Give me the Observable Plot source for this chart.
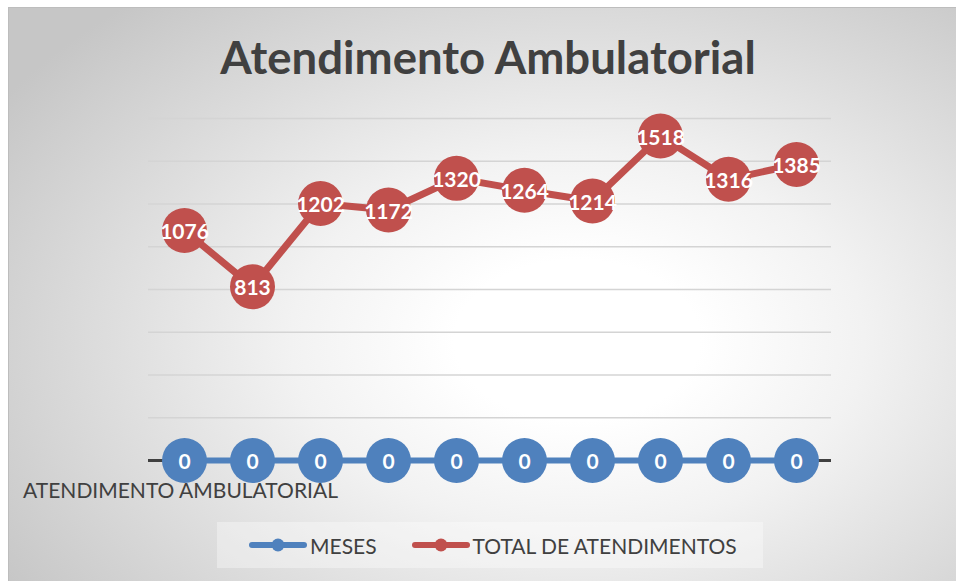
<!DOCTYPE html>
<html>
<head>
<meta charset="utf-8">
<script src="https://cdn.jsdelivr.net/npm/d3@7"></script>
<script src="https://cdn.jsdelivr.net/npm/@observablehq/plot@0.6"></script>
<style>
  html, body { margin: 0; padding: 0; background: #ffffff; }
  #wrap { position: relative; width: 956px; height: 581px; overflow: hidden; font-family: Lato, "Open Sans", sans-serif; }
  #bg { position: absolute; left: 8px; top: 7px; width: 948px; height: 574px; box-sizing: border-box;
        border-top: 1px solid #bdbdbd; border-left: 1px solid #bdbdbd;
        background: radial-gradient(ellipse 72% 78% at 60% 58%, #ffffff 0%, #ffffff 18%, #f2f2f2 42%, #dedede 68%, #c6c6c6 100%); }
  #title { position: absolute; left: 0; width: 976px; top: 29px; text-align: center; font-weight: 700; font-size: 45.5px; color: #404040; }
  #chart { position: absolute; left: 0; top: 0; }
  #legend { position: absolute; left: 217px; top: 522px; width: 546px; height: 46px; background: rgba(255,255,255,0.35);
            display: flex; align-items: center; font-size: 21px; color: #404040; }
  .item { display: flex; align-items: center; }
  .item svg { margin-right: 2px; }
</style>
</head>
<body>
<div id="wrap">
  <div id="bg"></div>
  <div id="chart"></div>
  <div id="title">Atendimento Ambulatorial</div>
  <div id="legend"></div>
</div>
<script>
const months = [1, 2, 3, 4, 5, 6, 7, 8, 9, 10];
const categoryLabels = ["ATENDIMENTO AMBULATORIAL", "", "", "", "", "", "", "", "", ""];
const meses = [0, 0, 0, 0, 0, 0, 0, 0, 0, 0];
const totalAtendimentos = [1076, 813, 1202, 1172, 1320, 1264, 1214, 1518, 1316, 1385];
const gridTicks = [200, 400, 600, 800, 1000, 1200, 1400, 1600];
const seriesNames = ["MESES", "TOTAL DE ATENDIMENTOS"];
const seriesColors = ["#4F81BD", "#C0504D"];

const mesesRows = months.map((m, i) => ({ m, v: meses[i] }));
const totalRows = months.map((m, i) => ({ m, v: totalAtendimentos[i] }));

const chart = Plot.plot({
  width: 956,
  height: 581,
  marginTop: 118,
  marginBottom: 121,
  marginLeft: 148,
  marginRight: 125,
  style: { background: "transparent", fontFamily: "Lato, 'Open Sans', sans-serif", overflow: "visible" },
  x: { type: "point", domain: months, padding: 0.5, label: null },
  y: { domain: [0, 1600], axis: null },
  marks: [
    Plot.ruleY(gridTicks, { stroke: "#d4d4d4", strokeWidth: 1.5 }),
    Plot.ruleY([0], { stroke: "#404040", strokeWidth: 3 }),
    Plot.axisX({ tickSize: 0, tickPadding: 23, fontSize: 21, dx: -4, label: null, tickFormat: (d) => categoryLabels[months.indexOf(d)], fill: "#404040" }),
    Plot.line(mesesRows, { x: "m", y: "v", stroke: seriesColors[0], strokeWidth: 6 }),
    Plot.dot(mesesRows, { x: "m", y: "v", r: 22.5, fill: seriesColors[0], stroke: null }),
    Plot.text(mesesRows, { x: "m", y: "v", text: d => String(d.v), fill: "white", fontWeight: 700, fontSize: 21, dy: 2 }),
    Plot.line(totalRows, { x: "m", y: "v", stroke: seriesColors[1], strokeWidth: 7 }),
    Plot.dot(totalRows, { x: "m", y: "v", r: 22.5, fill: seriesColors[1], stroke: null }),
    Plot.text(totalRows, { x: "m", y: "v", text: d => String(d.v), fill: "white", fontWeight: 700, fontSize: 21, dy: 2 })
  ]
});
document.getElementById("chart").appendChild(chart);

const legend = document.getElementById("legend");
const offsets = [31, 34];
seriesNames.forEach((name, i) => {
  const item = document.createElement("div");
  item.className = "item";
  item.style.marginLeft = offsets[i] + "px";
  item.innerHTML = `<svg width="60" height="16"><line x1="4" y1="8" x2="56" y2="8" stroke="${seriesColors[i]}" stroke-width="6" stroke-linecap="round"/><circle cx="30" cy="8" r="6.5" fill="${seriesColors[i]}"/></svg><span>${name}</span>`;
  legend.appendChild(item);
});
</script>
</body>
</html>
